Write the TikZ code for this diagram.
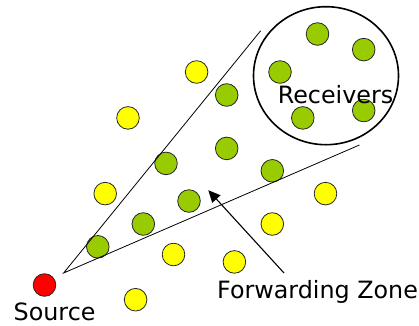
\documentclass[tikz,border=0pt]{standalone}
\usepackage{fontspec}
\setmainfont{DejaVu Sans}
\usetikzlibrary{arrows.meta}
\definecolor{nodegreen}{HTML}{99CC00}
\definecolor{nodeyellow}{HTML}{FFFF00}
\definecolor{nodered}{HTML}{FF0000}
\begin{document}
\begin{tikzpicture}[x=1pt,y=-1pt,
  peer/.style={circle,draw=black!85,line width=0.8pt,minimum size=22.6pt,inner sep=0pt},
  gnode/.style={peer,fill=nodegreen},
  ynode/.style={peer,fill=nodeyellow},
  rnode/.style={peer,fill=nodered},
  zone/.style={line width=0.8pt},
  lbl/.style={inner sep=0pt,anchor=base west,font=\fontsize{23.8}{28}\selectfont}]
\useasboundingbox (0,0) rectangle (419,325);
% receiver group
\draw[line width=1.6pt] (326,75.7) ellipse [x radius=72.5,y radius=69];
% green forwarding / receiving nodes
\node[gnode] (g1) at (317.5,34) {};
\node[gnode] (g2) at (363.7,49.6) {};
\node[gnode] (g3) at (280,72) {};
\node[gnode] (g4) at (302.8,117.9) {};
\node[gnode] (g5) at (363.7,110.5) {};
\node[gnode] (g6) at (226.7,95) {};
\node[gnode] (g7) at (226.7,148.4) {};
\node[gnode] (g8) at (166,163.4) {};
\node[gnode] (g9) at (272.3,170.8) {};
\node[gnode] (g10) at (189,201) {};
\node[gnode] (g11) at (143.3,224) {};
\node[gnode] (g12) at (97.8,246.8) {};
% yellow nodes outside the zone
\node[ynode] (y1) at (196.6,72) {};
\node[ynode] (y2) at (128,117.9) {};
\node[ynode] (y3) at (105.2,193.6) {};
\node[ynode] (y4) at (325.5,193.6) {};
\node[ynode] (y5) at (272.3,224) {};
\node[ynode] (y6) at (173.5,254.5) {};
\node[ynode] (y7) at (234.4,261.9) {};
\node[ynode] (y8) at (135.6,299.7) {};
% source
\node[rnode] (src) at (44.5,285) {};
% forwarding zone boundaries
\coordinate (apex) at (63.6,273);
\coordinate (zu) at (260.6,30.8);
\coordinate (zl) at (359.4,145);
\draw[zone] (zu) -- (apex) -- (zl);
% labels
\node[lbl] (recv) at (277.6,103.5) {Receivers};
\node[lbl] (fz) at (217,298.5) {Forwarding Zone};
\node[lbl] (srcl) at (13.5,320.8) {Source};
% pointer into the zone
\coordinate (ptail) at (284,273);
\coordinate (phead) at (208.3,190.2);
\draw[line width=1.1pt,-{Triangle[length=12pt,width=11pt]}] (ptail) -- (phead);
\end{tikzpicture}
\end{document}
